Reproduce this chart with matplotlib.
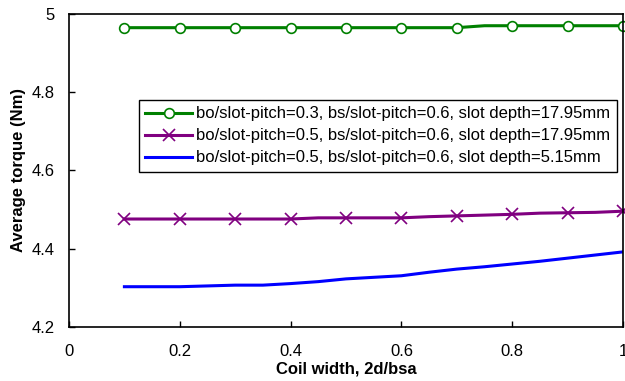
import numpy as np
import matplotlib
matplotlib.use("Agg")
import matplotlib.pyplot as plt

plt.rcParams['font.family'] = ['Liberation Sans', 'DejaVu Sans']

# coil width 2d/bsa, sampled every 0.05 (markers every 0.1)
coil_width = [0.10, 0.15, 0.20, 0.25, 0.30, 0.35, 0.40, 0.45, 0.50, 0.55,
              0.60, 0.65, 0.70, 0.75, 0.80, 0.85, 0.90, 0.95, 1.00]

torque_bo03 = [4.965, 4.965, 4.965, 4.965, 4.965, 4.965, 4.965, 4.965, 4.965, 4.965,
               4.965, 4.965, 4.965, 4.970, 4.970, 4.970, 4.970, 4.970, 4.970]
torque_bo05 = [4.476, 4.476, 4.476, 4.476, 4.476, 4.476, 4.476, 4.479, 4.479, 4.479,
               4.479, 4.482, 4.484, 4.486, 4.488, 4.491, 4.492, 4.493, 4.496]
torque_bo05_shallow = [4.303, 4.303, 4.303, 4.305, 4.307, 4.307, 4.311, 4.316, 4.323, 4.327,
                       4.331, 4.340, 4.348, 4.354, 4.361, 4.368, 4.376, 4.384, 4.392]

labels = [
    "bo/slot-pitch=0.3, bs/slot-pitch=0.6, slot depth=17.95mm",
    "bo/slot-pitch=0.5, bs/slot-pitch=0.6, slot depth=17.95mm",
    "bo/slot-pitch=0.5, bs/slot-pitch=0.6, slot depth=5.15mm",
]

fig = plt.figure(figsize=(6.25, 3.81), dpi=100)
ax = fig.add_axes([0.1104, 0.1417, 0.8864, 0.8216])

ax.plot(coil_width, torque_bo03, color="#008000", linewidth=2.2, marker="o",
        markersize=7, markerfacecolor="white", markeredgewidth=1.2,
        markevery=2, label=labels[0], clip_on=False)
ax.plot(coil_width, torque_bo05, color="#800080", linewidth=2.2, marker="x",
        markersize=9, markeredgewidth=1.2, markevery=2, label=labels[1], clip_on=False)
ax.plot(coil_width, torque_bo05_shallow, color="#0000FF", linewidth=2.2,
        label=labels[2])

ax.set_xlim(0, 1)
ax.set_ylim(4.2, 5.0)
ax.set_xticks([0, 0.2, 0.4, 0.6, 0.8, 1.0])
ax.set_xticklabels(["0", "0.2", "0.4", "0.6", "0.8", "1"])
ax.set_yticks([4.2, 4.4, 4.6, 4.8, 5.0])
ax.set_yticklabels(["4.2", "4.4", "4.6", "4.8", "5"])
ax.tick_params(direction="in", length=4, width=1, labelsize=12)
ax.tick_params(axis="y", pad=10)
ax.tick_params(axis="x", pad=12)
for sp in ax.spines.values():
    sp.set_linewidth(1.2)

ax.set_xlabel("Coil width, 2d/bsa", fontsize=12, fontweight="bold", labelpad=2)
ax.set_ylabel("Average torque (Nm)", fontsize=12, fontweight="bold", labelpad=4)

leg = ax.legend(loc="lower left", bbox_to_anchor=(0.126, 0.495), borderaxespad=0,
                fontsize=12, handlelength=2.8, fancybox=False, framealpha=1,
                edgecolor="black", labelspacing=0.42, borderpad=0.4, handletextpad=0.25)
leg.get_frame().set_linewidth(1.0)

fig.savefig("out.png", dpi=100)
